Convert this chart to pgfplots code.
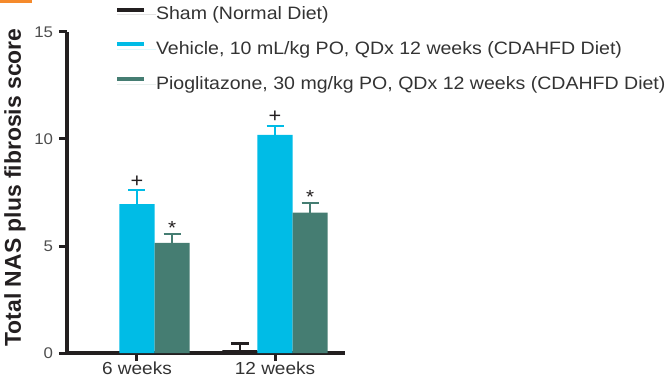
\documentclass[border=0pt]{standalone}
\usepackage{fontspec}
\setmainfont{Liberation Sans}[FakeStretch=1.09]
\newfontfamily\labfont{Liberation Sans}
\usepackage{pgfplots}
\usepackage{pgfplotstable}
\pgfplotsset{compat=1.18}
\definecolor{cyanbar}{HTML}{00BCE6}
\definecolor{tealbar}{HTML}{457D72}
\definecolor{axblack}{HTML}{231F20}
\definecolor{txt}{HTML}{333333}
\definecolor{ticktxt}{HTML}{4D4D4D}
\definecolor{orng}{HTML}{F58A2C}

\pgfplotstableread{
x y err
0 0 0
1 0.14 0.30
}\sham
\pgfplotstableread{
x y err
0 6.96 0.65
1 10.19 0.42
}\vehicle
\pgfplotstableread{
x y err
0 5.15 0.42
1 6.56 0.44
}\pio

\begin{document}
\begin{tikzpicture}[x=1bp,y=1bp]
\useasboundingbox (0,0) rectangle (669,378);
\fill[orng] (0,375) rectangle (32,378);
\begin{axis}[
  scale only axis,
  width=278bp, height=321bp,
  at={(67bp,25bp)}, anchor=south west,
  xmin=-0.507, xmax=1.507,
  ymin=0, ymax=15,
  axis lines*=left,
  line width=3.2bp,
  axis line style={line width=3.2bp, draw=axblack, -},
  x axis line style={line width=3.2bp},
  y axis line style={line width=3.4bp},
  xtick={0,1}, xticklabels={6 weeks,12 weeks},
  ytick={0,5,10,15},
  every tick/.style={line width=3bp, draw=axblack},
  ytick style={line width=3bp, draw=axblack},
  xtick style={line width=3bp, draw=axblack},
  major tick length=8bp,
  tick align=outside,
  xticklabel style={font=\fontsize{17.5}{18}\selectfont, text=txt, inner sep=1bp, text depth=0pt, yshift=2bp},
  yticklabel style={font=\fontsize{15.5}{16}\selectfont, text=ticktxt, xshift=-1bp},
  /pgf/number format/assume math mode=true,
  ylabel={Total NAS plus fibrosis score},
  ylabel style={font=\labfont\bfseries\fontsize{23}{23}\selectfont, text=axblack,
    at={(rel axis cs:-0.187,0.5156)}, anchor=center},
  ybar, bar width=0.254,
  clip=false,
  after end axis/.code={
    \draw[line width=3.2bp, axblack] (rel axis cs:0,0) -- (rel axis cs:0,1);
  },
  legend cell align=left,
  legend style={draw=none, fill=none, inner sep=0pt, outer sep=0pt,
    at={(rel axis cs:0.1727,1.081)}, anchor=north west,
    row sep=16.5bp,
    font=\fontsize{18}{19}\selectfont, text=txt,
    nodes={inner sep=0pt, outer sep=0pt, text height=14bp, text depth=4bp}},
]
\addplot[fill=axblack, draw=none, bar shift=-0.254,
  legend image code/.code={\draw[line width=4bp, axblack] (0bp,5bp) -- (27bp,5bp); \path (0bp,0bp) -- (39bp,0bp);},
  error bars/.cd, y dir=plus, y explicit,
  error bar style={line width=2.5bp, color=axblack},
  error mark options={rotate=90, mark size=9bp, line width=2.5bp, color=axblack}]
  table[x=x, y=y, y error=err]{\sham};
\addlegendentry{Sham (Normal Diet)}
\addplot[fill=cyanbar, draw=none, bar shift=0,
  legend image code/.code={\draw[line width=4bp, cyanbar] (0bp,5bp) -- (27bp,5bp); \path (0bp,0bp) -- (39bp,0bp);},
  visualization depends on={\thisrow{err}\as\myerr},
  nodes near coords={+},
  every node near coord/.append style={anchor=base, shift={(axis direction cs:0,\myerr)}, yshift=3bp,
     font=\fontsize{20}{20}\selectfont, text=axblack},
  error bars/.cd, y dir=plus, y explicit,
  error bar style={line width=2.5bp, color=cyanbar},
  error mark options={rotate=90, mark size=8.5bp, line width=2.5bp, color=cyanbar}]
  table[x=x, y=y, y error=err]{\vehicle};
\addlegendentry{Vehicle, 10 mL/kg PO, QDx 12 weeks (CDAHFD Diet)}
\addplot[fill=tealbar, draw=none, bar shift=0.254,
  legend image code/.code={\draw[line width=4bp, tealbar] (0bp,5bp) -- (27bp,5bp); \path (0bp,0bp) -- (39bp,0bp);},
  visualization depends on={\thisrow{err}\as\myerr},
  nodes near coords={*},
  every node near coord/.append style={anchor=base, shift={(axis direction cs:0,\myerr)}, yshift=-0.5bp,
     font=\fontsize{19}{19}\selectfont, text=axblack},
  error bars/.cd, y dir=plus, y explicit,
  error bar style={line width=2.5bp, color=tealbar},
  error mark options={rotate=90, mark size=8.5bp, line width=2.5bp, color=tealbar}]
  table[x=x, y=y, y error=err]{\pio};
\addlegendentry{Pioglitazone, 30 mg/kg PO, QDx 12 weeks (CDAHFD Diet)}
\end{axis}
\end{tikzpicture}
\end{document}
